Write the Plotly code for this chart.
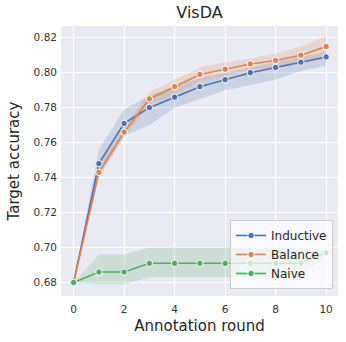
import plotly.graph_objects as go

rounds = list(range(11))

inductive = [0.680, 0.748, 0.771, 0.780, 0.786, 0.792, 0.796, 0.800, 0.803, 0.806, 0.809]
inductive_lo = [0.680, 0.741, 0.764, 0.770, 0.780, 0.785, 0.790, 0.793, 0.796, 0.801, 0.804]
inductive_hi = [0.680, 0.756, 0.779, 0.787, 0.792, 0.797, 0.800, 0.803, 0.806, 0.809, 0.812]

balance = [0.680, 0.743, 0.766, 0.785, 0.792, 0.799, 0.802, 0.805, 0.807, 0.810, 0.815]
balance_lo = [0.680, 0.740, 0.763, 0.782, 0.787, 0.795, 0.798, 0.802, 0.803, 0.805, 0.808]
balance_hi = [0.680, 0.747, 0.769, 0.789, 0.796, 0.803, 0.806, 0.808, 0.811, 0.815, 0.821]

naive = [0.680, 0.686, 0.686, 0.691, 0.691, 0.691, 0.691, 0.691, 0.691, 0.691, 0.697]
naive_lo = [0.680, 0.679, 0.679, 0.683, 0.683, 0.683, 0.683, 0.683, 0.683, 0.683, 0.696]
naive_hi = [0.680, 0.696, 0.696, 0.700, 0.700, 0.700, 0.700, 0.700, 0.700, 0.700, 0.698]

series = [
    ("Inductive", inductive, inductive_lo, inductive_hi, "#4C72B0", "rgba(76,114,176,0.2)"),
    ("Balance", balance, balance_lo, balance_hi, "#DD8452", "rgba(221,132,82,0.2)"),
    ("Naive", naive, naive_lo, naive_hi, "#55A868", "rgba(85,168,104,0.2)"),
]

fig = go.Figure()
# error bands first, so lines sit on top
for name, y, lo, hi, col, fillcol in series:
    fig.add_trace(go.Scatter(
        x=rounds + rounds[::-1],
        y=hi + lo[::-1],
        fill="toself",
        fillcolor=fillcol,
        line=dict(width=0),
        mode="lines",
        showlegend=False,
        hoverinfo="skip",
    ))
for name, y, lo, hi, col, fillcol in series:
    fig.add_trace(go.Scatter(
        x=rounds,
        y=y,
        name=name,
        mode="lines+markers",
        line=dict(color=col, width=1.6),
        marker=dict(color=col, size=6.5, line=dict(color="white", width=1)),
    ))

W, H = 346, 342
fig.update_layout(
    width=W,
    height=H,
    margin=dict(l=61, r=8, t=26, b=46),
    paper_bgcolor="white",
    plot_bgcolor="#EAEAF2",
    font=dict(family="DejaVu Sans", color="#262626"),
    title=dict(
        text="VisDA",
        x=(61 + W - 8) / 2 / W,
        xanchor="center",
        y=1 - 7 / H,
        yanchor="top",
        font=dict(size=16, color="#262626"),
    ),
    xaxis=dict(
        title=dict(text="Annotation round", font=dict(size=15), standoff=6),
        range=[-0.5, 10.47],
        tickvals=[0, 2, 4, 6, 8, 10],
        tickfont=dict(size=10.5, color="#333"),
        ticklabelstandoff=5,
        gridcolor="white",
        gridwidth=1,
        zeroline=False,
        showline=False,
        ticks="",
        automargin=False,
    ),
    yaxis=dict(
        title=dict(text="Target accuracy", font=dict(size=15), standoff=10),
        range=[0.6723, 0.8267],
        tickvals=[0.68, 0.70, 0.72, 0.74, 0.76, 0.78, 0.80, 0.82],
        tickformat=".2f",
        tickfont=dict(size=10.5, color="#333"),
        ticklabelstandoff=3,
        gridcolor="white",
        gridwidth=1,
        zeroline=False,
        showline=False,
        ticks="",
        automargin=False,
    ),
    legend=dict(
        x=0.982,
        y=0.026,
        xanchor="right",
        yanchor="bottom",
        bgcolor="rgba(255,255,255,0.7)",
        bordercolor="#CCCCCC",
        borderwidth=1,
        font=dict(size=12, color="#262626"),
        itemwidth=30,
        tracegroupgap=0,
    ),
)

# drop the browser's default 8px body margin so the figure fills the window
fig.write_html(
    "out.html",
    config={"displayModeBar": False},
    post_script="document.body.style.margin='0';",
)
